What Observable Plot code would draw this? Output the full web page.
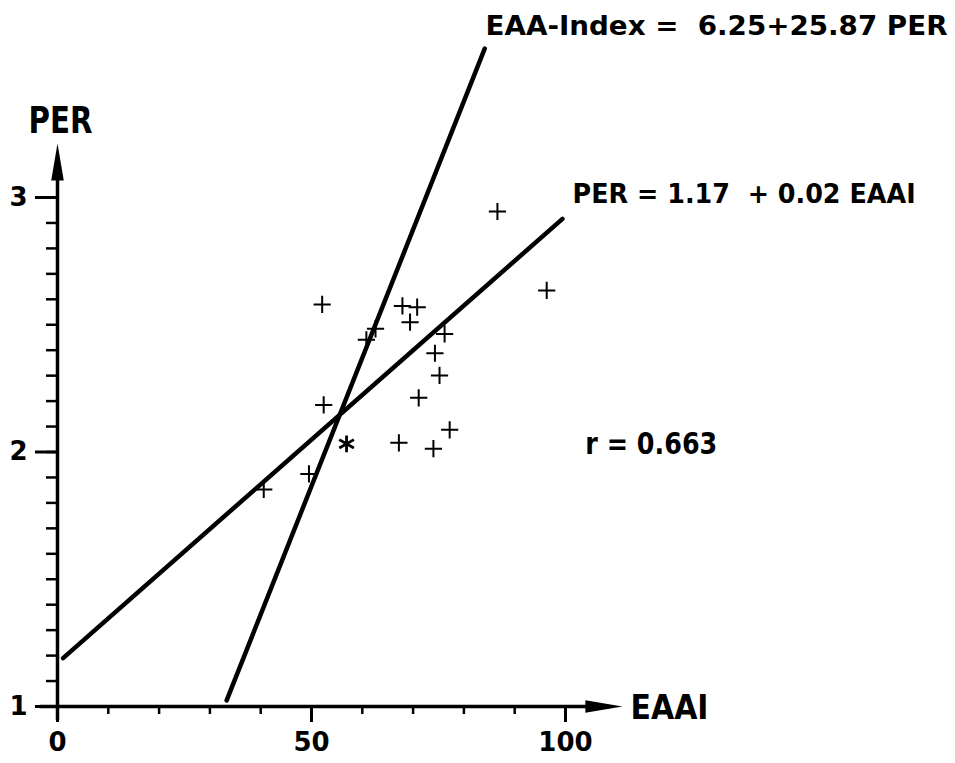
<!DOCTYPE html>
<html><head><meta charset="utf-8">
<script src="https://cdn.jsdelivr.net/npm/d3@7"></script>
<script src="https://cdn.jsdelivr.net/npm/@observablehq/plot@0.6"></script>
<style>
html,body{margin:0;padding:0;background:#fff;}
svg text{white-space:pre;}
</style></head><body><div id="chart"></div>
<script>
// scatter points (EAAI, PER)
const eaai = [52.1, 67.9, 70.8, 69.4, 62.6, 60.8, 76.2, 74.3, 75.2, 71.1, 52.4, 77.2, 67.2, 74.0, 49.5, 40.6, 86.6, 96.3];
const per  = [2.580, 2.574, 2.569, 2.510, 2.484, 2.441, 2.464, 2.388, 2.301, 2.213, 2.185, 2.087, 2.036, 2.013, 1.914, 1.853, 2.945, 2.635];
const starEaai = [56.9];
const starPer = [2.032];
// regression lines as drawn (end points)
const fitPerEaai = [1.1, 99.4];
const fitPerPer = [1.19, 2.916];
const fitEaaEaai = [33.3, 84.1];
const fitEaaPer = [1.024, 3.585];
// ticks
const xTicks = [0, 50, 100];
const yTicks = [1, 2, 3];
const xMinor = [0, 10, 20, 30, 40, 50, 60, 70, 80, 90, 100];
const yMinor = [1.0,1.1,1.2,1.3,1.4,1.5,1.6,1.7,1.8,1.9,2.0,2.1,2.2,2.3,2.4,2.5,2.6,2.7,2.8,2.9,3.0];
// axis extents
const xAxisEnds = [-3.4, 111.2];
const yAxisEnds = [0.945, 3.212];
// annotations
const noteText = ["EAA-Index =  6.25+25.87 PER", "PER = 1.17  + 0.02 EAAI", "r = 0.663"];
const noteX = [84.25, 101.4, 103.9];
const noteY = [3.672, 3.014, 2.028];
const xLabel = "EAAI", yLabel = "PER";

const pts = eaai.map((x, i) => ({x, y: per[i]}));
const star = starEaai.map((x, i) => ({x, y: starPer[i]}));
const lineA = fitPerEaai.map((x, i) => ({x, y: fitPerPer[i]}));
const lineB = fitEaaEaai.map((x, i) => ({x, y: fitEaaPer[i]}));
const notes = noteText.map((t, i) => ({t, x: noteX[i], y: noteY[i]}));
const arrows = [
  {x: 0, y: yAxisEnds[1], rot: 0},
  {x: xAxisEnds[1], y: 1, rot: 90}
];
const arrowSymbol = {
  draw(context, size) {
    const L = Math.sqrt(size / Math.PI);
    const w = L * 0.17;
    context.moveTo(0, 0);
    context.lineTo(w, L);
    context.lineTo(-w, L);
    context.closePath();
  }
};
const font = "'DejaVu Sans', sans-serif";

const chart = Plot.plot({
  width: 955,
  height: 763,
  marginLeft: 57,
  marginRight: 390,
  marginTop: 197,
  marginBottom: 57,
  x: {domain: [0, 100]},
  y: {domain: [1, 3]},
  style: {fontFamily: font, background: "#fff", color: "#000", overflow: "visible"},
  marks: [
    // axis lines
    Plot.ruleY([1], {x1: xAxisEnds[0], x2: xAxisEnds[1] - 5, stroke: "black", strokeWidth: 3.5}),
    Plot.ruleX([0], {y1: yAxisEnds[0], y2: yAxisEnds[1] - 0.1, stroke: "black", strokeWidth: 3.5}),
    Plot.dot(arrows, {x: "x", y: "y", r: 37, rotate: "rot", symbol: arrowSymbol, fill: "black", stroke: "none"}),
    // minor ticks
    Plot.axisX({ticks: xMinor, tickSize: 8, tickFormat: () => "", strokeWidth: 2.5, label: null}),
    Plot.axisY({ticks: yMinor, tickSize: 11, tickFormat: () => "", strokeWidth: 2.5, label: null}),
    // major ticks with labels
    Plot.axisX({ticks: xTicks, tickSize: 16, tickPadding: 10, strokeWidth: 3, fontSize: 26, fontWeight: "bold", label: null, tickFormat: d => String(d)}),
    Plot.axisY({ticks: yTicks, tickSize: 22, tickPadding: 8, strokeWidth: 3, fontSize: 26, fontWeight: "bold", label: null, tickFormat: d => String(d)}),
    // axis titles
    Plot.text([yLabel], {x: 0.6, y: 3.30, text: d => d, fontSize: 38, fontWeight: "bold", textAnchor: "middle", fill: "black"}),
    Plot.text([xLabel], {x: 112.8, y: 0.994, text: d => d, fontSize: 33, fontWeight: "bold", textAnchor: "start", fill: "black"}),
    // regression lines
    Plot.line(lineA, {x: "x", y: "y", stroke: "black", strokeWidth: 4.5}),
    Plot.line(lineB, {x: "x", y: "y", stroke: "black", strokeWidth: 4.5}),
    // points
    Plot.dot(pts, {x: "x", y: "y", symbol: "plus", r: 5.6, stroke: "black", strokeWidth: 2}),
    Plot.dot(star, {x: "x", y: "y", symbol: "asterisk", r: 8, stroke: "black", strokeWidth: 2.8}),
    // annotations
    Plot.text(notes.slice(0, 1), {x: "x", y: "y", text: "t", fontSize: 26.5, fontWeight: "bold", textAnchor: "start", fill: "black"}),
    Plot.text(notes.slice(1, 2), {x: "x", y: "y", text: "t", fontSize: 27, fontWeight: "bold", textAnchor: "start", fill: "black"}),
    Plot.text(notes.slice(2), {x: "x", y: "y", text: "t", fontSize: 30, fontWeight: "bold", textAnchor: "start", fill: "black"})
  ]
});
// condense the hand-lettered texts to their widths in the reference
const textWidths = new Map([
  [noteText[0], 462], [noteText[1], 343], [noteText[2], 132],
  [yLabel, 64], [xLabel, 78]
]);
d3.select(chart).selectAll("text").each(function() {
  const w = textWidths.get(this.textContent);
  if (w) {
    this.setAttribute("textLength", w);
    this.setAttribute("lengthAdjust", "spacingAndGlyphs");
  }
});
document.getElementById("chart").appendChild(chart);
</script>
</body></html>
